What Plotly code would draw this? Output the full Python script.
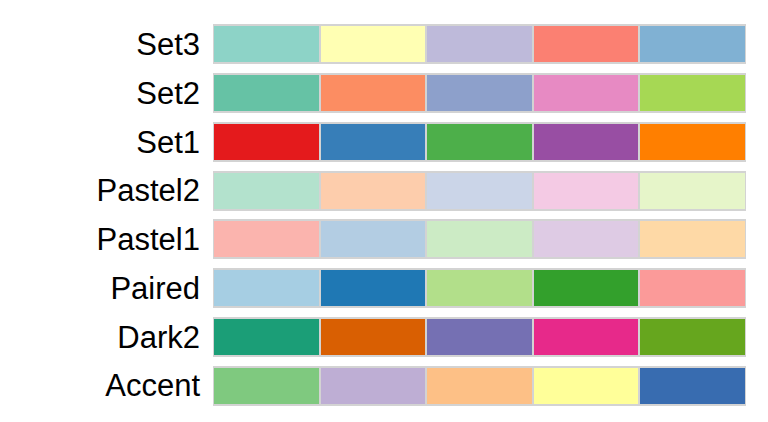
import plotly.graph_objects as go

# qualitative palettes, first five colours each (bottom row first)
palette_names = ["Accent", "Dark2", "Paired", "Pastel1", "Pastel2", "Set1", "Set2", "Set3"]

accent = ["#7FC97F", "#BEAED4", "#FDC086", "#FFFF99", "#386CB0"]
dark2 = ["#1B9E77", "#D95F02", "#7570B3", "#E7298A", "#66A61E"]
paired = ["#A6CEE3", "#1F78B4", "#B2DF8A", "#33A02C", "#FB9A99"]
pastel1 = ["#FBB4AE", "#B3CDE3", "#CCEBC5", "#DECBE4", "#FED9A6"]
pastel2 = ["#B3E2CD", "#FDCDAC", "#CBD5E8", "#F4CAE4", "#E6F5C9"]
set1 = ["#E41A1C", "#377EB8", "#4DAF4A", "#984EA3", "#FF7F00"]
set2 = ["#66C2A5", "#FC8D62", "#8DA0CB", "#E78AC3", "#A6D854"]
set3 = ["#8DD3C7", "#FFFFB3", "#BEBADA", "#FB8072", "#80B1D3"]

palettes = [accent, dark2, paired, pastel1, pastel2, set1, set2, set3]
swatch_size = [1, 1, 1, 1, 1]

fig = go.Figure()
for j, w in enumerate(swatch_size):
    fig.add_trace(go.Bar(
        y=palette_names,
        x=[w] * len(palette_names),
        orientation="h",
        marker=dict(
            color=[p[j] for p in palettes],
            line=dict(color="lightgray", width=2),
        ),
        hoverinfo="y",
        showlegend=False,
    ))

# page body adds an 8px margin, so the figure is sized 8px smaller
fig.update_layout(
    barmode="stack",
    bargap=0.22,
    width=760,
    height=414,
    margin=dict(l=205, r=22, t=12, b=12),
    paper_bgcolor="white",
    plot_bgcolor="white",
    font=dict(family="Liberation Sans, Arial", size=31, color="black"),
)
fig.update_xaxes(visible=False, range=[0, sum(swatch_size)], automargin=False)
fig.update_yaxes(showgrid=False, zeroline=False, showline=False, automargin=False,
                 ticklabelstandoff=12, range=[-0.5, len(palette_names) - 0.5])

fig.write_html("out.html")
